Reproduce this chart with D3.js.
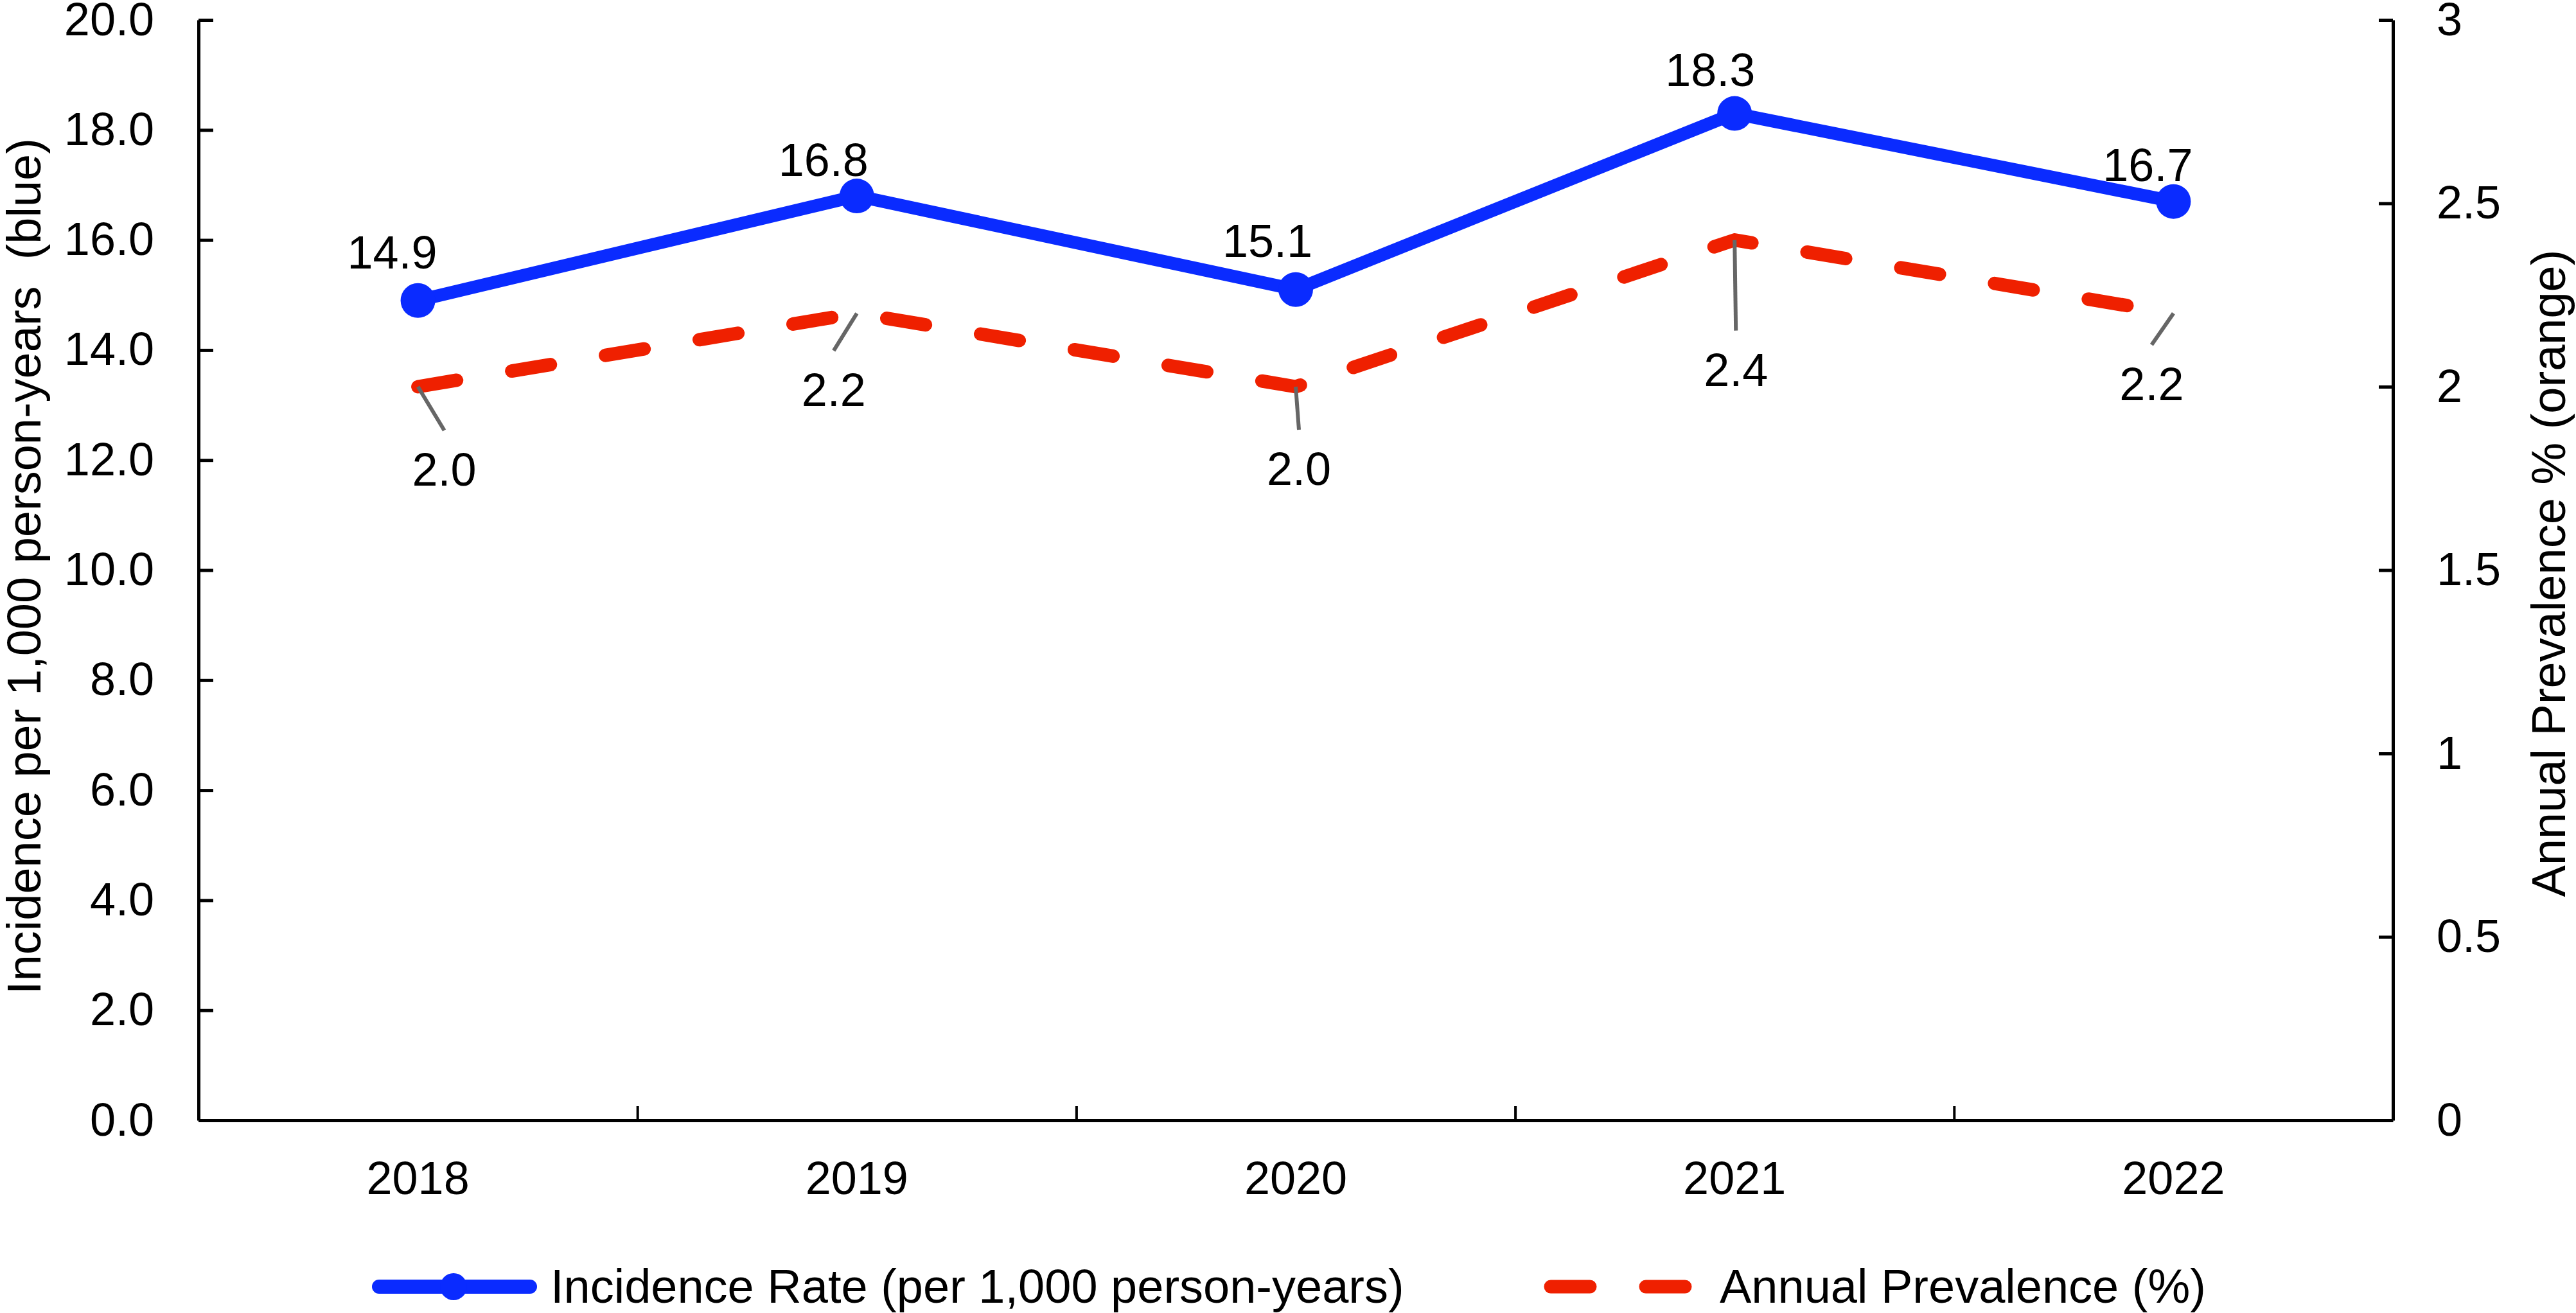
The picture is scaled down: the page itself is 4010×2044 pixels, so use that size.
<!DOCTYPE html>
<html>
<head>
<meta charset="utf-8">
<script src="https://cdn.jsdelivr.net/npm/d3@7"></script>
<style>
  body { margin: 0; background: #fff; }
  svg { display: block; font-family: "Liberation Sans", Arial, sans-serif; }
  .axis path, .axis line { stroke: #000; }
  .axis text { fill: #000; font-size: 72px; }
</style>
</head>
<body>
<svg></svg>
<script>
// data
var years = ["2018", "2019", "2020", "2021", "2022"];
var incidence = [14.9, 16.8, 15.1, 18.3, 16.7];
var prevalence = [2.0, 2.2, 2.0, 2.4, 2.2];
var leftTicks = [0, 2, 4, 6, 8, 10, 12, 14, 16, 18, 20];
var rightTicks = [0, 0.5, 1, 1.5, 2, 2.5, 3];
var seriesNames = ["Incidence Rate (per 1,000 person-years)", "Annual Prevalence (%)"];

// layout conf.
var svgWidth = 4010, svgHeight = 2044,
    plot = {left: 309, right: 3725, top: 31, bottom: 1744},
    blueColor = "#0a2bff",
    redColor = "#ef2000",
    leaderColor = "#666666",
    dashPattern = "61,87";

// label placement (dx, dy from the point to label centre / baseline)
var blueLabelOffsets = [[-40, -50], [-52, -31], [-44, -51], [-38, -43], [-40, -32]];
var redLabelOffsets = [[41, 154], [-36, 144], [5, 153], [2, 227], [-34, 135]];

var svg = d3.select("svg")
    .attr("width", svgWidth)
    .attr("height", svgHeight);

var x = d3.scaleBand().domain(years).range([plot.left, plot.right]);
var xEdge = d3.scaleLinear().domain([0, years.length]).range([plot.left, plot.right]);
var yL = d3.scaleLinear().domain([0, 20]).range([plot.bottom, plot.top]);
var yR = d3.scaleLinear().domain([0, 3]).range([plot.bottom, plot.top]);

function cx(i) { return x(years[i]) + x.bandwidth() / 2; }

// left axis
var gLeft = svg.append("g")
    .attr("class", "axis")
    .attr("transform", "translate(" + plot.left + ",0)")
    .call(d3.axisLeft(yL).tickValues(leftTicks).tickFormat(d3.format(".1f"))
      .tickSizeInner(22).tickSizeOuter(0).tickPadding(47));
gLeft.select(".domain").attr("stroke-width", 5);
gLeft.selectAll(".tick line").attr("x2", 23).attr("stroke-width", 5);

// right axis
var gRight = svg.append("g")
    .attr("class", "axis")
    .attr("transform", "translate(" + plot.right + ",0)")
    .call(d3.axisRight(yR).tickValues(rightTicks).tickFormat(function(d){ return String(d); })
      .tickSizeInner(-22).tickSizeOuter(0).tickPadding(68));
gRight.select(".domain").attr("stroke-width", 5);
gRight.selectAll(".tick line").attr("stroke-width", 5);

// bottom axis: labels at band centres, ticks at band edges
var gBottom = svg.append("g")
    .attr("class", "axis")
    .attr("transform", "translate(0," + plot.bottom + ")")
    .call(d3.axisBottom(x).tickSize(0).tickPadding(0));
gBottom.select(".domain").remove();
gBottom.selectAll("text").attr("y", 115).attr("dy", null);

var gEdge = svg.append("g")
    .attr("class", "axis")
    .attr("transform", "translate(0," + plot.bottom + ")")
    .call(d3.axisBottom(xEdge).tickValues([1, 2, 3, 4]).tickFormat("")
      .tickSizeInner(-22).tickSizeOuter(0));
gEdge.select(".domain").attr("stroke-width", 5);
gEdge.selectAll(".tick line").attr("stroke-width", 4);

// axis titles
svg.append("text")
    .attr("transform", "translate(" + [63, (plot.top + plot.bottom) / 2 - 6] + ") rotate(-90)")
    .attr("text-anchor", "middle")
    .style("font-size", "74px")
    .text("Incidence per 1,000 person-years\u00a0\u00a0(blue)");

svg.append("text")
    .attr("transform", "translate(" + [3993, (plot.top + plot.bottom) / 2 + 5] + ") rotate(-90)")
    .attr("text-anchor", "middle")
    .style("font-size", "74px")
    .text("Annual Prevalence % (orange)");

// prevalence line (dashed)
var redLine = d3.line()
    .x(function(d, i){ return cx(i); })
    .y(function(d){ return yR(d); });

svg.append("path")
    .datum(prevalence)
    .attr("d", redLine)
    .attr("fill", "none")
    .attr("stroke", redColor)
    .attr("stroke-width", 21)
    .attr("stroke-linecap", "round")
    .attr("stroke-linejoin", "round")
    .attr("stroke-dasharray", dashPattern);

// incidence line
var blueLine = d3.line()
    .x(function(d, i){ return cx(i); })
    .y(function(d){ return yL(d); });

svg.append("path")
    .datum(incidence)
    .attr("d", blueLine)
    .attr("fill", "none")
    .attr("stroke", blueColor)
    .attr("stroke-width", 20)
    .attr("stroke-linejoin", "round");

svg.append("g").selectAll("circle")
    .data(incidence)
    .enter().append("circle")
      .attr("cx", function(d, i){ return cx(i); })
      .attr("cy", function(d){ return yL(d); })
      .attr("r", 27)
      .attr("fill", blueColor);

// incidence labels
svg.append("g").selectAll("text")
    .data(incidence)
    .enter().append("text")
      .attr("x", function(d, i){ return cx(i) + blueLabelOffsets[i][0]; })
      .attr("y", function(d, i){ return yL(d) + blueLabelOffsets[i][1]; })
      .attr("text-anchor", "middle")
      .style("font-size", "72px")
      .text(function(d){ return d.toFixed(1); });

// prevalence labels with leader lines
var redLabels = svg.append("g").selectAll("g")
    .data(prevalence)
    .enter().append("g");

redLabels.append("line")
    .attr("x1", function(d, i){ return cx(i); })
    .attr("y1", function(d){ return yR(d); })
    .attr("x2", function(d, i){ return cx(i) + redLabelOffsets[i][0]; })
    .attr("y2", function(d, i){ return yR(d) + redLabelOffsets[i][1] - 86; })
    .attr("stroke", leaderColor)
    .attr("stroke-width", 6);

redLabels.append("text")
    .attr("x", function(d, i){ return cx(i) + redLabelOffsets[i][0]; })
    .attr("y", function(d, i){ return yR(d) + redLabelOffsets[i][1]; })
    .attr("text-anchor", "middle")
    .style("font-size", "72px")
    .text(function(d){ return d.toFixed(1); });

// legend
var legendY = 2003;
var legend = svg.append("g").classed("legend", true);

legend.append("line")
    .attr("x1", 590).attr("x2", 825)
    .attr("y1", legendY).attr("y2", legendY)
    .attr("stroke", blueColor)
    .attr("stroke-width", 22)
    .attr("stroke-linecap", "round");
legend.append("circle")
    .attr("cx", 706).attr("cy", legendY).attr("r", 21)
    .attr("fill", blueColor);
legend.append("text")
    .attr("x", 857).attr("y", 2028)
    .style("font-size", "74px")
    .text(seriesNames[0]);

legend.append("line")
    .attr("x1", 2414).attr("x2", 2625)
    .attr("y1", legendY).attr("y2", legendY)
    .attr("stroke", redColor)
    .attr("stroke-width", 21)
    .attr("stroke-linecap", "round")
    .attr("stroke-dasharray", dashPattern);
legend.append("text")
    .attr("x", 2677).attr("y", 2028)
    .style("font-size", "74px")
    .text(seriesNames[1]);
</script>
</body>
</html>
